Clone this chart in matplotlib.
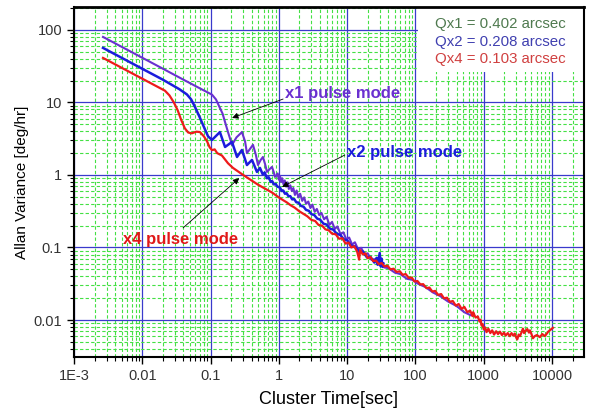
import matplotlib
matplotlib.use("Agg")
import matplotlib.pyplot as plt
from matplotlib.patches import Rectangle
from matplotlib.ticker import LogLocator, FixedLocator, FixedFormatter, NullFormatter

plt.rcParams['font.family'] = ['Liberation Sans', 'DejaVu Sans']

# x1 pulse mode (purple)
x1_t = [0.00266, 0.005, 0.01, 0.02, 0.04, 0.07, 0.09, 0.105, 0.12, 0.15, 0.18,
        0.206, 0.24, 0.288, 0.32, 0.341, 0.38, 0.418, 0.46, 0.495, 0.54, 0.585,
        0.63, 0.67, 0.73, 0.793, 0.84, 0.877,
        0.92, 0.96, 1.0, 1.04, 1.08, 1.12, 1.17, 1.22, 1.28, 1.34, 1.4, 1.47,
        1.55, 1.63, 1.72, 1.82, 1.93, 2.05, 2.2, 2.35, 2.5, 2.7, 2.9, 3.1,
        3.35, 3.6, 3.9, 4.2, 4.6, 5.0, 5.5, 6.0, 6.6, 7.2, 8.0, 8.8, 9.7,
        10.7, 11.8, 13, 14.5, 16, 18, 20, 22.5, 25, 28, 31, 35, 40, 50, 60,
        75, 90, 110, 140, 180, 230, 300, 400, 520, 650]
x1_v = [80, 58.4, 41.3, 29.2, 20.6, 15.6, 13.8, 12.8, 11.0, 7.0, 3.9,
        2.6, 3.3, 3.9, 2.9, 2.0, 2.3, 2.6, 1.9, 1.37, 1.6, 1.77,
        1.4, 1.1, 1.2, 1.29, 1.1, 0.94,
        0.98, 1.05, 0.86, 0.97, 0.80, 0.90, 0.74, 0.84, 0.69, 0.79, 0.64, 0.72,
        0.60, 0.66, 0.53, 0.61, 0.49, 0.55, 0.44, 0.49, 0.40, 0.43, 0.35, 0.39,
        0.31, 0.34, 0.28, 0.30, 0.245, 0.265, 0.205, 0.225, 0.18, 0.195, 0.152, 0.162, 0.13,
        0.137, 0.11, 0.118, 0.094, 0.099, 0.081, 0.083, 0.068, 0.069, 0.058, 0.06, 0.053, 0.052, 0.045, 0.043,
        0.037, 0.0358, 0.0315, 0.0285, 0.024, 0.0214, 0.018, 0.0156, 0.0128, 0.0116]

# x2 pulse mode (blue)
x2_t = [0.00266, 0.005, 0.01, 0.02, 0.035, 0.045, 0.052, 0.059, 0.068, 0.0775,
        0.092, 0.105, 0.137, 0.163, 0.206, 0.244, 0.288, 0.341, 0.404, 0.478,
        0.529, 0.58, 0.62, 0.67, 0.71, 0.76, 0.8, 0.85, 0.9, 0.95, 1.0,
        1.05, 1.1, 1.16, 1.23, 1.3, 1.38, 1.47, 1.57, 1.68, 1.8, 1.95, 2.1,
        2.3, 2.5, 2.75, 3.0, 3.3, 3.65, 4.0, 4.5, 5.0, 5.6, 6.3, 7.0, 8.0,
        9.0, 10, 11.5, 13, 15, 17, 19.5, 22, 25, 27, 28, 30, 31, 32, 33, 34]
x2_v = [56.5, 41.2, 29.1, 20.6, 15.2, 12.9, 11.0, 8.7, 6.5, 4.9,
        3.4, 3.04, 3.9, 2.43, 2.85, 1.77, 2.21, 1.37, 1.61, 1.10,
        1.25, 1.02, 1.08, 0.90, 0.93, 0.80, 0.82, 0.74, 0.75, 0.69, 0.68,
        0.66, 0.60, 0.61, 0.55, 0.56, 0.51, 0.51, 0.46, 0.465, 0.42, 0.415, 0.375,
        0.365, 0.33, 0.32, 0.288, 0.28, 0.25, 0.243, 0.213, 0.207, 0.182, 0.176, 0.155, 0.148,
        0.128, 0.126, 0.106, 0.104, 0.087, 0.088, 0.073, 0.074, 0.062, 0.072, 0.058, 0.084, 0.055, 0.07, 0.054, 0.06]

# x4 pulse mode (red)
x4_t = [0.00266, 0.005, 0.01, 0.0215, 0.025, 0.029, 0.033, 0.037, 0.042, 0.047,
        0.053, 0.062, 0.070, 0.080, 0.089, 0.097, 0.105, 0.115, 0.125, 0.147,
        0.18, 0.213, 0.3, 0.5, 0.8,
        1.0, 1.15, 1.3, 1.5, 1.7, 2.0, 2.3, 2.6, 3.0, 3.4, 3.8, 4.3, 4.8, 5.4,
        6.0, 6.8, 7.6, 8.5, 9.5, 10.5, 11.5, 12.7, 14, 15, 15.5, 17, 18.5, 20,
        22, 24, 26.5, 29, 32, 35, 39, 43, 48, 53, 59, 65, 72, 80, 88, 97, 107,
        118, 130, 145, 160, 177, 195, 215, 238, 262, 290, 320, 352, 390, 430,
        475, 520, 575, 630, 690, 700, 760, 820, 870, 900, 930, 960, 1000, 1050,
        1100, 1170, 1250, 1330, 1420, 1520, 1620, 1730, 1850, 1980, 2100, 2250,
        2400, 2550, 2700, 2850, 3000, 3100, 3250, 3400, 3600, 3750, 3900, 4100,
        4350, 4600, 4750, 5000, 5250, 5600, 6000, 6650, 7200, 7870, 8800, 10300]
x4_v = [41.1, 30.0, 21.2, 14.5, 12.5, 10.0, 7.8, 5.8, 4.4, 3.85,
        3.75, 3.95, 3.9, 3.4, 2.9, 2.4, 2.2, 2.25, 2.0, 1.85,
        1.45, 1.25, 1.0, 0.73, 0.57,
        0.49, 0.45, 0.42, 0.38, 0.355, 0.315, 0.29, 0.27, 0.24, 0.232, 0.205, 0.2, 0.178, 0.172,
        0.155, 0.152, 0.132, 0.134, 0.113, 0.117, 0.1, 0.104, 0.088, 0.068, 0.092, 0.08, 0.083, 0.071,
        0.074, 0.065, 0.066, 0.059, 0.061, 0.055, 0.056, 0.05, 0.051, 0.046, 0.047, 0.042, 0.043, 0.038, 0.0385, 0.034, 0.0345,
        0.031, 0.0312, 0.0275, 0.028, 0.0247, 0.0252, 0.0222, 0.0228, 0.0199, 0.0203, 0.0178, 0.0183, 0.0158, 0.0166,
        0.0142, 0.0152, 0.0128, 0.0135, 0.0113, 0.0128, 0.0108, 0.0112, 0.0095, 0.0101, 0.0084, 0.0088, 0.0074, 0.0079,
        0.0068, 0.0076, 0.0066, 0.0072, 0.0063, 0.0070, 0.0064, 0.0069, 0.0062, 0.0067, 0.0061, 0.0066,
        0.0060, 0.0066, 0.0061, 0.0065, 0.0057, 0.0054, 0.0063, 0.0060, 0.0069, 0.0076, 0.0066, 0.0071,
        0.0075, 0.0067, 0.0072, 0.0064, 0.0056, 0.0060, 0.0062, 0.0058, 0.0064, 0.0060, 0.0069, 0.0078]

x_ticks = [1e-3, 1e-2, 1e-1, 1, 10, 100, 1000, 10000]
x_labels = ['1E-3', '0.01', '0.1', '1', '10', '100', '1000', '10000']
y_ticks = [0.01, 0.1, 1, 10, 100]
y_labels = ['0.01', '0.1', '1', '10', '100']

quant_labels = ['Qx1 = 0.402 arcsec', 'Qx2 = 0.208 arcsec', 'Qx4 = 0.103 arcsec']
quant_colors = ['#4f7a4f', '#4040b0', '#d04040']

fig = plt.figure(figsize=(5.89, 4.13), dpi=100)
ax = fig.add_axes([0.1256, 0.1356, 0.8659, 0.8475])
ax.set_xscale('log')
ax.set_yscale('log')
ax.set_xlim(1e-3, 29400)
ax.set_ylim(0.00309, 207)

ax.plot(x1_t, x1_v, color='#6a30d0', lw=1.5, zorder=3)
ax.plot(x2_t, x2_v, color='#1c1cdc', lw=1.8, zorder=3)
ax.plot(x4_t, x4_v, color='#ee1a1a', lw=1.6, zorder=4)

ax.xaxis.set_major_locator(FixedLocator(x_ticks))
ax.xaxis.set_major_formatter(FixedFormatter(x_labels))
ax.yaxis.set_major_locator(FixedLocator(y_ticks))
ax.yaxis.set_major_formatter(FixedFormatter(y_labels))
for axis in (ax.xaxis, ax.yaxis):
    axis.set_minor_locator(LogLocator(base=10, subs=range(2, 10), numticks=20))
    axis.set_minor_formatter(NullFormatter())

ax.set_axisbelow(True)
ax.grid(which='major', color='#3a3acc', lw=0.9, ls='-')
ax.grid(which='minor', color='#44e044', lw=0.8, ls=(0, (3, 2)))
ax.tick_params(which='major', direction='out', length=5, width=1, labelsize=10.5,
               labelcolor='#333333', top=False, right=False)
ax.tick_params(which='minor', direction='out', length=3, width=0.8, top=False, right=False)
for sp in ax.spines.values():
    sp.set_linewidth(1.5)
ax.spines['top'].set_linewidth(2)

# white box behind the quantization texts
ax.add_patch(Rectangle((0.675, 0.814), 0.325, 0.186, transform=ax.transAxes,
                       facecolor='white', edgecolor='none', zorder=1))
for i, (lab, col) in enumerate(zip(quant_labels, quant_colors)):
    ax.text(0.708, 0.951 - i * 0.05, lab, color=col, fontsize=10.8,
            transform=ax.transAxes, va='center', ha='left', zorder=5)

ax.text(0.414, 0.754, 'x1 pulse mode', color='#6a30d0', fontsize=12, fontweight='bold',
        transform=ax.transAxes, va='center', ha='left', zorder=5)
ax.text(0.535, 0.583, 'x2 pulse mode', color='#1c1cdc', fontsize=12, fontweight='bold',
        transform=ax.transAxes, va='center', ha='left', zorder=5)
ax.text(0.096, 0.337, 'x4 pulse mode', color='#e01818', fontsize=12, fontweight='bold',
        transform=ax.transAxes, va='center', ha='left', zorder=5)

arrow = dict(arrowstyle='-|>', color='black', lw=0.6, mutation_scale=9,
             shrinkA=0, shrinkB=0)
ax.annotate('', xy=(0.31, 0.683), xytext=(0.41, 0.737), xycoords='axes fraction',
            arrowprops=arrow, zorder=6)
ax.annotate('', xy=(0.408, 0.486), xytext=(0.531, 0.577), xycoords='axes fraction',
            arrowprops=arrow, zorder=6)
ax.annotate('', xy=(0.324, 0.511), xytext=(0.214, 0.369), xycoords='axes fraction',
            arrowprops=arrow, zorder=6)

ax.set_xlabel('Cluster Time[sec]', fontsize=13, labelpad=6)
ax.set_ylabel('Allan Variance [deg/hr]', fontsize=11, labelpad=3)

fig.savefig('out.png', dpi=100)
